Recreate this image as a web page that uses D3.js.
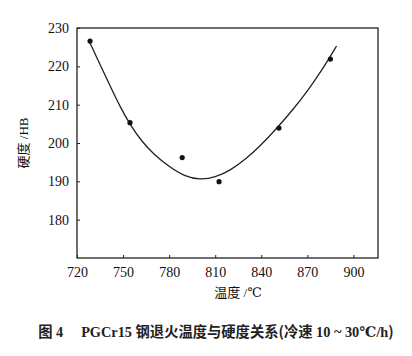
<!DOCTYPE html>
<html><head><meta charset="utf-8">
<script src="https://cdn.jsdelivr.net/npm/d3@7"></script>
<style>body{margin:0;background:#fff;}svg{display:block;}
.serif{font-family:"Liberation Serif","DejaVu Serif",serif;}
.cjk{font-family:"Noto Sans CJK SC",sans-serif;}
</style>
</head><body>
<script>
// measured points
const tempPts = [728.5, 754.5, 788.5, 812.5, 851.5, 885];
const hardPts = [226.6, 205.3, 196.2, 189.9, 203.9, 221.9];
// fitted curve
const curveT = [728, 735, 742, 748, 755, 762, 770, 780, 790, 800, 810, 820, 830, 840, 850, 860, 870, 880, 889];
const curveH = [226.5, 220.5, 214.5, 209.5, 204.5, 200.5, 197.0, 193.8, 191.3, 190.4, 191.0, 192.9, 195.8, 199.5, 203.8, 208.4, 213.5, 219.3, 225.3];
const xTicks = [720, 750, 780, 810, 840, 870, 900];
const yTicks = [180, 190, 200, 210, 220, 230];
const xTitle = [["温度", "cjk"], [" /℃", "serif"]];
const yTitle = [["硬度", "cjk"], [" /HB", "serif"]];
const caption = [["图", "cjk"], [" 4     PGCr15 ", "serif"], ["钢退火温度与硬度关系(冷速", "cjk"], [" 10 ~ 30℃/h", "serif"], [")", "cjk"]];

const W = 412, H = 356;
const m = {l: 77, r: 378, t: 28, b: 258};
const svg = d3.select("body").append("svg").attr("width", W).attr("height", H);
svg.append("rect").attr("width", W).attr("height", H).attr("fill", "#fff");

const x = d3.scaleLinear().domain([720, 916]).range([m.l, m.r]);
const y = d3.scaleLinear().domain([170, 230]).range([m.b, m.t]);

// frame
svg.append("rect").attr("x", m.l).attr("y", m.t).attr("width", m.r - m.l).attr("height", m.b - m.t)
  .attr("fill", "none").attr("stroke", "#222").attr("stroke-width", 1.3);

const xAxis = svg.append("g").attr("transform", `translate(0,${m.b})`)
  .call(d3.axisBottom(x).tickValues(xTicks).tickSizeInner(-3).tickSizeOuter(0).tickPadding(9));
xAxis.attr("font-family", null);
xAxis.select(".domain").remove();
xAxis.selectAll("line").attr("stroke", "#222");
xAxis.selectAll("text").attr("class", "serif").attr("font-size", 14).attr("fill", "#111");

const yAxis = svg.append("g").attr("transform", `translate(${m.l},0)`)
  .call(d3.axisLeft(y).tickValues(yTicks).tickSizeInner(-3).tickSizeOuter(0).tickPadding(8));
yAxis.attr("font-family", null);
yAxis.select(".domain").remove();
yAxis.selectAll("line").attr("stroke", "#222");
yAxis.selectAll("text").attr("class", "serif").attr("font-size", 14).attr("fill", "#111");

// curve
const cdata = curveT.map((t, i) => [t, curveH[i]]);
svg.append("path").datum(cdata)
  .attr("d", d3.line().x(d => x(d[0])).y(d => y(d[1])).curve(d3.curveBasis))
  .attr("fill", "none").attr("stroke", "#222").attr("stroke-width", 1.3);

// points
svg.selectAll("circle.pt").data(tempPts.map((t, i) => [t, hardPts[i]])).enter()
  .append("circle").attr("class", "pt")
  .attr("cx", d => x(d[0])).attr("cy", d => y(d[1])).attr("r", 2.6).attr("fill", "#111");

function runs(sel, parts) {
  sel.selectAll("tspan").data(parts).enter().append("tspan")
    .attr("class", d => d[1]).style("white-space", "pre").text(d => d[0]);
}
// titles
runs(svg.append("text").attr("x", 238).attr("y", 297).attr("text-anchor", "middle")
  .attr("font-size", 13).attr("fill", "#111").style("white-space", "pre"), xTitle);
runs(svg.append("text").attr("transform", "translate(28,143) rotate(-90)").attr("text-anchor", "middle")
  .attr("font-size", 13).attr("fill", "#111").style("white-space", "pre"), yTitle);
runs(svg.append("text").attr("x", 216).attr("y", 337).attr("text-anchor", "middle")
  .attr("font-size", 14.3).attr("font-weight", "bold").attr("fill", "#222").style("white-space", "pre"), caption);
</script>
</body></html>
